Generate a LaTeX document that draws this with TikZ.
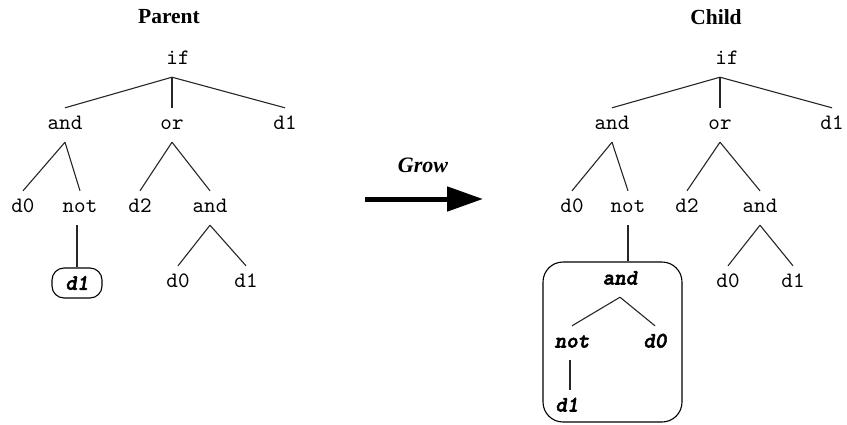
\documentclass[tikz,border=0pt]{standalone}
\usepackage{fontspec}
\setmainfont{Liberation Serif}
\newfontfamily\monofam{lmmono10-regular}[Extension=.otf, UprightFont=lmmono10-regular, ItalicFont=lmmono10-italic, BoldFont=lmmonolt10-bold, BoldItalicFont=lmmonolt10-boldoblique, BoldItalicFeatures={FakeBold=2.5}]
\usetikzlibrary{arrows.meta}
\tikzset{
  lbl/.style={font=\monofam\fontsize{22}{22}\selectfont, inner sep=0pt, minimum height=34pt, text height=12pt, text depth=3pt},
  newlbl/.style={lbl, font=\monofam\bfseries\itshape\fontsize{22}{22}\selectfont},
  title/.style={font=\bfseries\fontsize{21.5}{21.5}\selectfont, inner sep=0pt},
  edge/.style={line width=1.1pt, black!85},
  pbox/.style={draw, line width=1.1pt, rounded corners=12pt, minimum width=50pt, minimum height=30pt, inner sep=0pt},
  bigbox/.style={draw, line width=1.1pt, rounded corners=20pt, minimum width=139pt, minimum height=160pt, inner sep=0pt},
}
\begin{document}
\begin{tikzpicture}[x=1pt,y=-1pt]
\useasboundingbox (0,0) rectangle (847,424);
% titles
\node[title] (tparent) at (169,17) {Parent};
\node[title] (tchild) at (716,17) {Child};
% parent tree
\node[lbl] (pif) at (178,60) {if};
\node[lbl] (pand) at (65,125) {and};
\node[lbl] (por) at (172,125) {or};
\node[lbl] (pd1) at (285,125) {d1};
\node[lbl] (pd0) at (23,208) {d0};
\node[lbl] (pnot) at (80,208) {not};
\node[lbl] (pd2) at (140,208) {d2};
\node[lbl] (pand2) at (210,208) {and};
\node[pbox, font=\monofam\bfseries\itshape\fontsize{22}{22}\selectfont] (pbx) at (77,283) {d1};
\node[lbl] (pd0b) at (178,283) {d0};
\node[lbl] (pd1b) at (246,283) {d1};
\draw[edge] (por.north |- pif.south) -- (pand.north);
\draw[edge] (por.north |- pif.south) -- (por.north);
\draw[edge] (por.north |- pif.south) -- (pd1.north);
\draw[edge] (pand.south) -- (pd0.north);
\draw[edge] (pand.south) -- (pnot.north);
\draw[edge] (por.south) -- (pd2.north);
\draw[edge] (por.south) -- (pand2.north);
\draw[edge] (pbx.north |- pnot.south) -- (pbx.north);
\draw[edge] (pand2.south) -- (pd0b.north);
\draw[edge] (pand2.south) -- (pd1b.north);
% arrow
\coordinate (as) at (365,199);
\coordinate (ae) at (483,199);
\draw[line width=5pt, -{Triangle[length=36pt,width=24pt]}] (as) -- (ae);
\node[font=\bfseries\itshape\fontsize{22}{22}\selectfont, inner sep=0pt] (grow) at (423,165) {Grow};
% child tree
\node[lbl] (cif) at (727,60) {if};
\node[lbl] (cand) at (612,125) {and};
\node[lbl] (cor) at (720,125) {or};
\node[lbl] (cd1) at (832,125) {d1};
\node[lbl] (cd0) at (572,208) {d0};
\node[lbl] (cnot) at (628,208) {not};
\node[lbl] (cd2) at (687,208) {d2};
\node[lbl] (cand2) at (760,208) {and};
\node[lbl] (cd0b) at (728,283) {d0};
\node[lbl] (cd1b) at (793,283) {d1};
\node[bigbox] (box) at (612.5,342) {};
\node[newlbl] (band) at (620,280) {and};
\node[newlbl] (bnot) at (572,343) {not};
\node[newlbl] (bd0) at (655,343) {d0};
\node[newlbl] (bd1) at (567,407) {d1};
\draw[edge] (cor.north |- cif.south) -- (cand.north);
\draw[edge] (cor.north |- cif.south) -- (cor.north);
\draw[edge] (cor.north |- cif.south) -- (cd1.north);
\draw[edge] (cand.south) -- (cd0.north);
\draw[edge] (cand.south) -- (cnot.north);
\draw[edge] (cor.south) -- (cd2.north);
\draw[edge] (cor.south) -- (cand2.north);
\draw[edge] (cnot.south) -- (cnot.south |- box.north);
\draw[edge] (cand2.south) -- (cd0b.north);
\draw[edge] (cand2.south) -- (cd1b.north);
\draw[edge] (band.south) -- (bnot.north);
\draw[edge] (band.south) -- (bd0.north);
\draw[edge] ([xshift=-2pt]bnot.south) -- ([xshift=-2pt]bnot.south |- bd1.north);
\end{tikzpicture}
\end{document}
